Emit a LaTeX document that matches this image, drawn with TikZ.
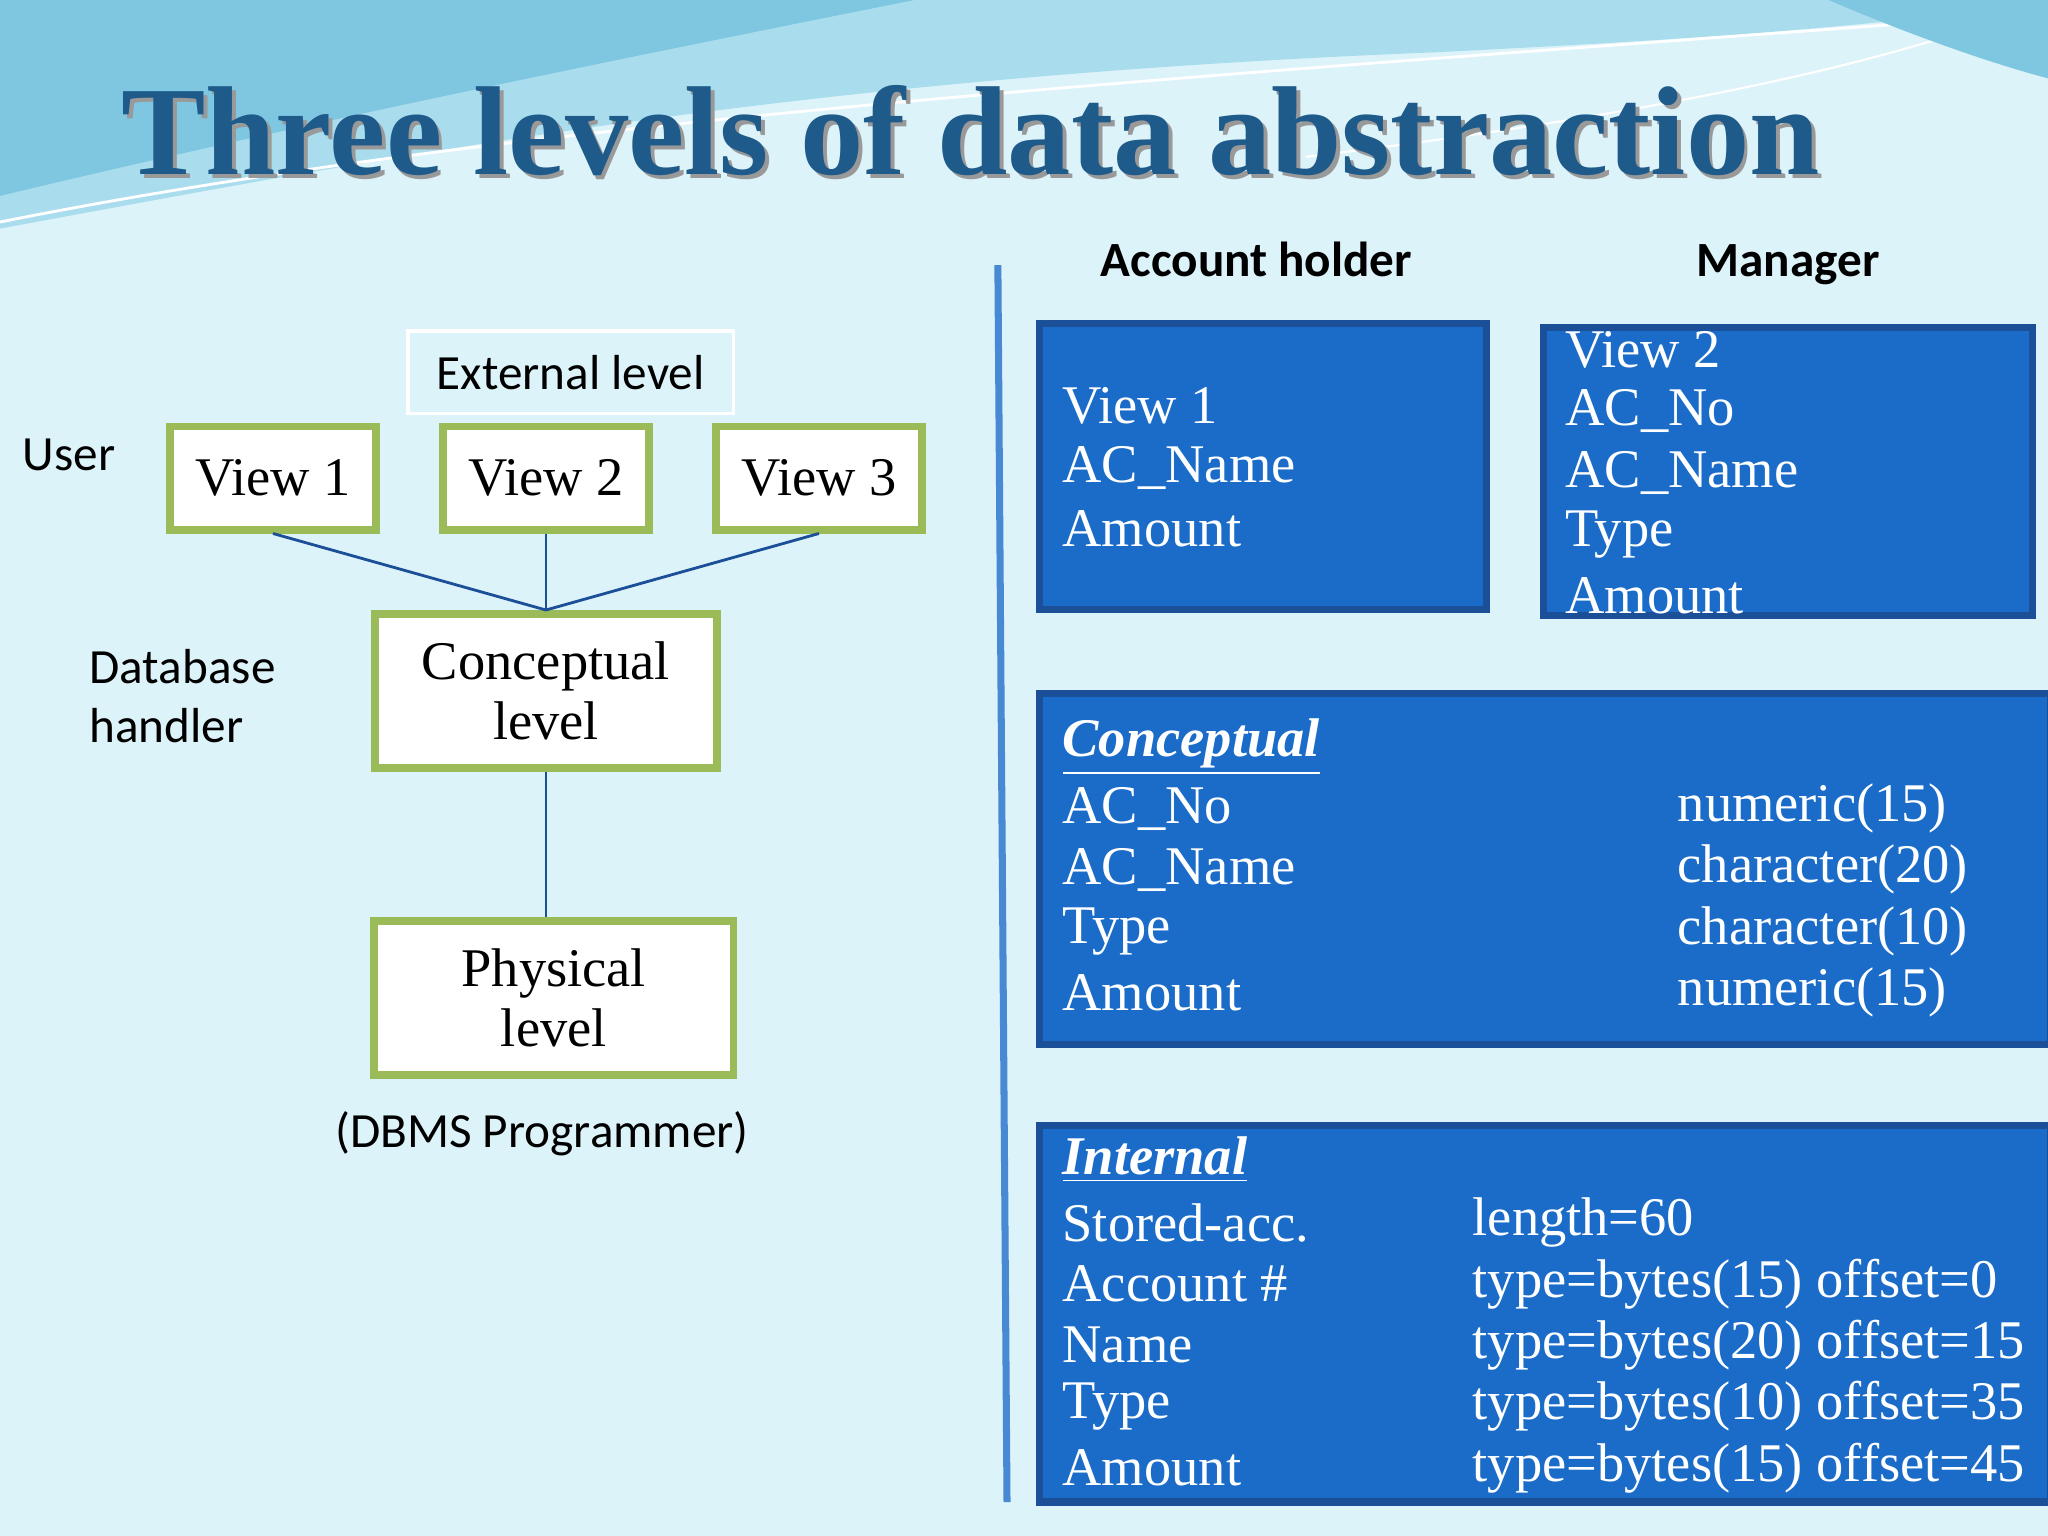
\documentclass[tikz,border=0pt]{standalone}
\usepackage{fontspec}
\setmainfont{Liberation Serif}
\newfontfamily\lab{Carlito}
\definecolor{bg}{HTML}{DDF3FA}
\definecolor{wave}{HTML}{7FC6E0}
\definecolor{wave2}{HTML}{A9DDEE}
\definecolor{boxb}{HTML}{1A6CC8}
\definecolor{boxe}{HTML}{1B4F98}
\definecolor{olive}{HTML}{9BBB59}
\definecolor{titc}{HTML}{1E5A8A}
\tikzset{
  x=0.01306cm,y=-0.01306cm,
  gbox/.style={draw=olive,line width=2.2pt,fill=white,align=center,inner sep=0pt,font=\fontsize{15.5}{17}\selectfont},
  bbox/.style={draw=boxe,line width=2pt,fill=boxb,inner sep=0pt},
  wt/.style={text=white,anchor=west,font=\fontsize{15.5}{18}\selectfont,inner sep=0pt},
  lt/.style={font=\lab\fontsize{14}{17}\selectfont,inner sep=0pt},
  conn/.style={draw=boxe,line width=0.8pt}
}
\begin{document}
\begin{tikzpicture}
\useasboundingbox (0,0) rectangle (1568,1176);
\fill[bg] (0,0) rectangle (1568,1176);
\fill[wave2] (0,0) -- (0,175) .. controls (300,120) and (600,60) .. (1100,40) .. controls (1300,30) and (1450,20) .. (1568,0) -- cycle;
\fill[wave] (0,0) -- (0,150) .. controls (250,90) and (500,40) .. (700,0) -- cycle;
\draw[white,line width=0.8pt] (0,170) .. controls (400,90) and (900,60) .. (1568,10);
\draw[white,line width=0.6pt] (1000,120) .. controls (1250,90) and (1450,50) .. (1568,0);
\fill[wave] (1400,0) .. controls (1470,30) and (1530,50) .. (1568,60) -- (1568,0) -- cycle;
% title
\node[text=black!40,font=\bfseries\fontsize{36}{42}\selectfont] at (746,103) {Three levels of data abstraction};
\node[text=titc,font=\bfseries\fontsize{36}{42}\selectfont] (title) at (743,100) {Three levels of data abstraction};
% left diagram
\node[draw=white,line width=1pt,minimum width=3.252cm,minimum height=0.823cm,lt] (ext) at (437,285) {External level};
\node[lt,anchor=west] (user) at (17,348) {User};
\node[lt,anchor=west,align=left] (dbh) at (68,533) {Database\\handler};
\node[lt] (dbms) at (415,868) {(DBMS Programmer)};
\node[gbox,minimum width=2.063cm,minimum height=1.032cm] (v1) at (209,366) {View 1};
\node[gbox,minimum width=2.063cm,minimum height=1.032cm] (v2) at (418,366) {View 2};
\node[gbox,minimum width=2.063cm,minimum height=1.032cm] (v3) at (627,366) {View 3};
\node[gbox,minimum width=3.422cm,minimum height=1.541cm] (con) at (418,529) {Conceptual\\level};
\node[gbox,minimum width=3.592cm,minimum height=1.541cm] (phy) at (424,764) {Physical\\level};
\draw[conn] (v1.south) -- (con.north); \draw[conn] (v2.south) -- (con.north); \draw[conn] (v3.south) -- (con.north);
\draw[conn] (con.south) -- (con.south |- phy.north);
% divider
\draw[boxb!80,line width=2pt] (764,203) -- (771,1150);
% headers
\node[font=\lab\bfseries\fontsize{14}{17}\selectfont,anchor=base] (hA) at (962,212) {Account holder};
\node[font=\lab\bfseries\fontsize{14}{17}\selectfont,anchor=base] (hM) at (1369,212) {Manager};
% right boxes
\node[bbox,minimum width=4.467cm,minimum height=2.860cm] (bA) at (967,357.5) {};
\node[wt] at (813,311) {View 1}; \node[wt] at (813,358) {AC\_Name}; \node[wt] at (813,405) {Amount};
\node[bbox,minimum width=4.884cm,minimum height=2.873cm] (bM) at (1369,361) {};
\node[wt] at (1198,268) {View 2}; \node[wt] at (1198,315) {AC\_No}; \node[wt] at (1198,362) {AC\_Name};
\node[wt] at (1198,409) {Type}; \node[wt] at (1198,456) {Amount};
\node[bbox,minimum width=10.108cm,minimum height=3.513cm] (bC) at (1183,665.5) {};
\node[wt,font=\bfseries\itshape\fontsize{15.5}{18}\selectfont] at (813,572) {\underline{Conceptual}};
\node[wt] at (813,619) {AC\_No}; \node[wt] at (1284,619) {numeric(15)};
\node[wt] at (813,666) {AC\_Name}; \node[wt] at (1284,666) {character(20)};
\node[wt] at (813,713) {Type}; \node[wt] at (1284,713) {character(10)};
\node[wt] at (813,760) {Amount}; \node[wt] at (1284,760) {numeric(15)};
\node[bbox,minimum width=10.108cm,minimum height=3.761cm] (bI) at (1183,1006) {};
\node[wt,font=\bfseries\itshape\fontsize{15.5}{18}\selectfont] at (813,888) {\underline{Internal}};
\node[wt] at (813,936) {Stored-acc.}; \node[wt] at (1127,936) {length=60};
\node[wt] at (813,983) {Account \#}; \node[wt] at (1127,983) {type=bytes(15) offset=0};
\node[wt] at (813,1030) {Name}; \node[wt] at (1127,1030) {type=bytes(20) offset=15};
\node[wt] at (813,1077) {Type}; \node[wt] at (1127,1077) {type=bytes(10) offset=35};
\node[wt] at (813,1124) {Amount}; \node[wt] at (1127,1124) {type=bytes(15) offset=45};
\end{tikzpicture}
\end{document}
